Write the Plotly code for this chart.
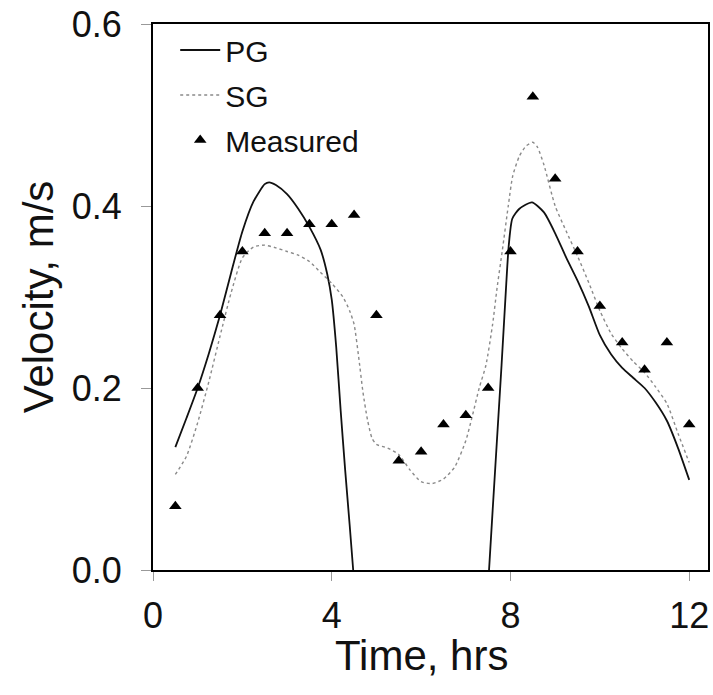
import plotly.graph_objects as go

# ---- data ----
measured_t = [0.5, 1.0, 1.5, 2.0, 2.5, 3.0, 3.5, 4.0, 4.5, 5.0, 5.5, 6.0,
              6.5, 7.0, 7.5, 8.0, 8.5, 9.0, 9.5, 10.0, 10.5, 11.0, 11.5, 12.0]
measured_v = [0.07, 0.20, 0.28, 0.35, 0.37, 0.37, 0.38, 0.38, 0.39, 0.28, 0.12, 0.13,
              0.16, 0.17, 0.20, 0.35, 0.52, 0.43, 0.35, 0.29, 0.25, 0.22, 0.25, 0.16]

pg_t1 = [0.5, 0.75, 1.0, 1.25, 1.5, 1.75, 2.0, 2.25, 2.5, 2.6, 2.75, 3.0, 3.25, 3.5,
         3.75, 3.9, 4.0, 4.1, 4.2, 4.3, 4.4, 4.48]
pg_v1 = [0.135, 0.167, 0.200, 0.238, 0.280, 0.327, 0.372, 0.405, 0.424, 0.426, 0.423,
         0.413, 0.397, 0.377, 0.352, 0.325, 0.297, 0.245, 0.175, 0.110, 0.050, 0.0]
pg_t2 = [7.52, 7.6, 7.7, 7.8, 7.9, 7.96, 8.04, 8.2, 8.48, 8.75, 9.0, 9.25, 9.5, 9.75,
         10.0, 10.25, 10.5, 10.75, 11.0, 11.25, 11.5, 11.75, 12.0]
pg_v2 = [0.0, 0.065, 0.145, 0.225, 0.31, 0.356, 0.386, 0.397, 0.404, 0.393, 0.370,
         0.343, 0.318, 0.290, 0.258, 0.237, 0.222, 0.211, 0.200, 0.184, 0.164, 0.134, 0.099]

sg_t = [0.5, 0.75, 1.0, 1.25, 1.5, 1.75, 2.0, 2.25, 2.5, 2.75, 3.0, 3.25, 3.5, 3.75,
        4.0, 4.25, 4.4, 4.5, 4.6, 4.7, 4.8, 4.9, 5.0, 5.25, 5.5, 5.75, 6.0, 6.25,
        6.5, 6.75, 7.0, 7.15, 7.3, 7.45, 7.6, 7.7, 7.82, 7.95, 8.05, 8.2, 8.35, 8.5,
        8.6, 8.75, 9.0, 9.25, 9.5, 9.75, 10.0, 10.25, 10.5, 10.75, 11.0, 11.25, 11.5,
        11.75, 12.0]
sg_v = [0.105, 0.125, 0.162, 0.207, 0.257, 0.305, 0.343, 0.355, 0.357, 0.354, 0.350,
        0.346, 0.339, 0.327, 0.315, 0.300, 0.285, 0.270, 0.235, 0.195, 0.165, 0.145,
        0.138, 0.134, 0.127, 0.110, 0.097, 0.095, 0.100, 0.113, 0.142, 0.170, 0.200,
        0.225, 0.270, 0.310, 0.352, 0.400, 0.433, 0.455, 0.466, 0.470, 0.465, 0.445,
        0.400, 0.372, 0.345, 0.316, 0.285, 0.260, 0.243, 0.229, 0.217, 0.201, 0.183,
        0.150, 0.118]

x_ticks = [0, 4, 8, 12]
y_ticks = [0.0, 0.2, 0.4, 0.6]

FONT = "Liberation Sans, Arial, sans-serif"

pg_t = pg_t1 + [None] + pg_t2
pg_v = pg_v1 + [None] + pg_v2

fig = go.Figure()
fig.add_trace(go.Scatter(
    x=pg_t, y=pg_v, name="PG", mode="lines", legendgroup="pg",
    line=dict(color="#111111", width=1.8, shape="spline", smoothing=0.6),
    connectgaps=False))
fig.add_trace(go.Scatter(
    x=sg_t, y=sg_v, name="SG", mode="lines", legendgroup="sg",
    line=dict(color="#8a8a8a", width=1.4, dash="dot", shape="spline", smoothing=0.6)))
fig.add_trace(go.Scatter(
    x=measured_t, y=measured_v, name="Measured", mode="markers", legendgroup="m",
    marker=dict(symbol="triangle-up", size=11, color="#000000")))

fig.update_layout(
    width=713, height=695,
    margin=dict(l=153, r=3, t=24, b=125),
    paper_bgcolor="white", plot_bgcolor="white",
    font=dict(family=FONT, color="#111111"),
    showlegend=True,
    legend=dict(x=0.04, y=1.0, xanchor="left", yanchor="top",
                bgcolor="rgba(0,0,0,0)", font=dict(size=30, family=FONT),
                itemwidth=40, traceorder="grouped", tracegroupgap=3),
)
fig.update_xaxes(
    range=[0, 12.42], tickvals=x_ticks, ticktext=[str(v) for v in x_ticks],
    showgrid=False, zeroline=False,
    showline=True, linecolor="#000000", linewidth=2, mirror=True,
    ticks="outside", ticklen=9, tickwidth=1, tickcolor="#999999",
    tickfont=dict(size=36, family=FONT), ticklabelstandoff=4,
)
fig.update_yaxes(
    range=[0, 0.6], tickvals=y_ticks, ticktext=["%.1f" % v for v in y_ticks],
    showgrid=False, zeroline=False,
    showline=True, linecolor="#000000", linewidth=2, mirror=True,
    ticks="outside", ticklen=10, tickwidth=1, tickcolor="#999999",
    tickfont=dict(size=36, family=FONT), ticklabelstandoff=12,
    title=dict(text="Velocity, m/s", font=dict(size=42, family=FONT), standoff=5),
)
fig.add_annotation(
    text="Time, hrs", xref="x", yref="paper", x=6, y=-0.156,
    xanchor="center", yanchor="middle", showarrow=False,
    font=dict(size=42, family=FONT, color="#111111"))

fig.write_html("out.html")
